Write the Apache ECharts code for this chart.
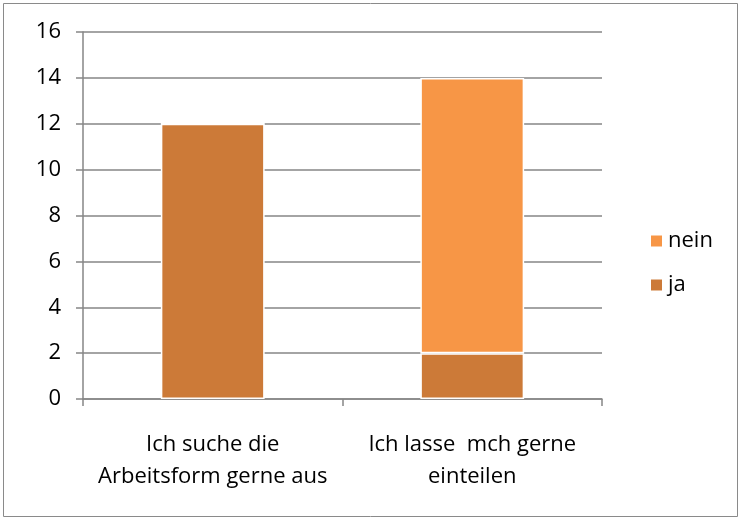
<!DOCTYPE html>
<html><head><meta charset="utf-8">
<script src="https://cdn.jsdelivr.net/npm/echarts@6/dist/echarts.min.js"></script>
<style>html,body{margin:0;padding:0;background:#fff}#c{width:741px;height:520px}</style>
</head><body><div id="c"></div>
<script>
const categories = ['Ich suche die\nArbeitsform gerne aus', 'Ich lasse  mch gerne\neinteilen'];
const seriesNames = ['ja', 'nein'];
const jaValues = [12, 2];
const neinValues = [0, 12];
const yTicks = [0, 2, 4, 6, 8, 10, 12, 14, 16];

const chart = echarts.init(document.getElementById('c'), null, {renderer: 'canvas'});
const font = '"Open Sans", Lato, sans-serif';
chart.setOption({
  animation: false,
  backgroundColor: '#fff',
  graphic: [{type: 'rect', shape: {x: 3.5, y: 3.5, width: 734, height: 513}, style: {fill: 'none', stroke: '#8a8a8a', lineWidth: 1}}],
  grid: {left: 83, right: 139, top: 32, bottom: 121},
  legend: {
    orient: 'vertical', left: 644, top: 225,
    data: ['nein', 'ja'],
    itemWidth: 13, itemHeight: 13, itemGap: 22,
    icon: 'rect',
    textStyle: {fontFamily: font, fontSize: 22, color: '#000'}
  },
  xAxis: {
    type: 'category', data: categories,
    axisLine: {lineStyle: {color: '#868686', width: 1.5}},
    axisTick: {show: true, length: 7, lineStyle: {color: '#868686', width: 1.5}},
    axisLabel: {fontFamily: font, fontSize: 22, color: '#000', lineHeight: 32, margin: 30, interval: 0}
  },
  yAxis: {
    type: 'value', min: yTicks[0], max: yTicks[yTicks.length - 1], interval: 2,
    axisLine: {show: true, lineStyle: {color: '#868686', width: 1.5}},
    axisTick: {show: true, length: 7, lineStyle: {color: '#868686', width: 1.5}},
    splitLine: {lineStyle: {color: '#868686', width: 1.5}},
    axisLabel: {fontFamily: font, fontSize: 22, color: '#000', margin: 22}
  },
  series: [
    {name: seriesNames[0], type: 'bar', stack: 's', data: jaValues, barWidth: '40%',
     itemStyle: {color: '#CC7A38', borderColor: '#fff', borderWidth: 1.5}},
    {name: seriesNames[1], type: 'bar', stack: 's', data: neinValues, barWidth: '40%',
     itemStyle: {color: '#F79646', borderColor: '#fff', borderWidth: 1.5}}
  ]
});
</script></body></html>
